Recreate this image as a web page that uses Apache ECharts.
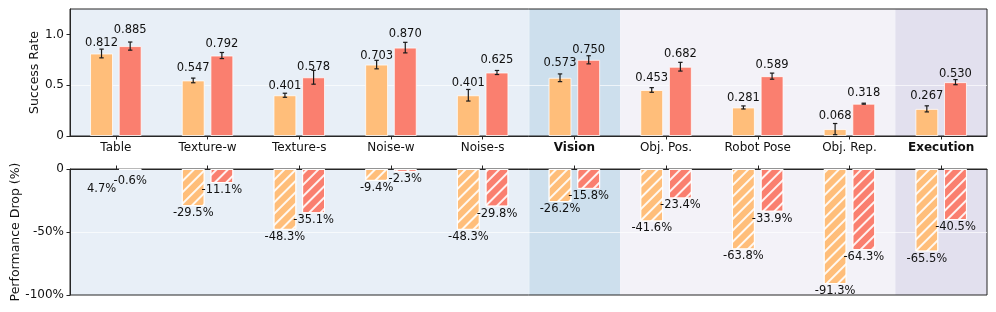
<!DOCTYPE html>
<html>
<head>
<meta charset="utf-8">
<script src="https://cdn.jsdelivr.net/npm/echarts@6/dist/echarts.min.js"></script>
<style>
html,body{margin:0;padding:0;background:#fff;}
#chart{width:996px;height:312px;}
</style>
</head>
<body>
<div id="chart"></div>
<script>
// ---- data ----
const categories = ['Table', 'Texture-w', 'Texture-s', 'Noise-w', 'Noise-s', 'Vision', 'Obj. Pos.', 'Robot Pose', 'Obj. Rep.', 'Execution'];
const boldCategories = ['Vision', 'Execution'];
const categoryGroups = ['basic', 'basic', 'basic', 'basic', 'basic', 'visionSum', 'exec', 'exec', 'exec', 'execSum'];
const baselineSuccess = [0.812, 0.547, 0.401, 0.703, 0.401, 0.573, 0.453, 0.281, 0.068, 0.267];
const baselineErr = [0.043, 0.023, 0.020, 0.042, 0.057, 0.038, 0.023, 0.015, 0.055, 0.030];
const oursSuccess = [0.885, 0.792, 0.578, 0.870, 0.625, 0.750, 0.682, 0.589, 0.318, 0.530];
const oursErr = [0.040, 0.030, 0.068, 0.052, 0.020, 0.040, 0.043, 0.030, 0.005, 0.025];
const baselineDrop = [4.7, -29.5, -48.3, -9.4, -48.3, -26.2, -41.6, -63.8, -91.3, -65.5];
const oursDrop = [-0.6, -11.1, -35.1, -2.3, -29.8, -15.8, -23.4, -33.9, -64.3, -40.5];
const successTicks = [0, 0.5, 1.0];
const successTickLabels = ['0', '0.5', '1.0'];
const dropTicks = [-100, -50, 0];
const dropTickLabels = ['-100%', '-50%', '0'];

// ---- style ----
const FONT = 'DejaVu Sans';
const ORANGE = '#FFBE7A';
const RED = '#FA7F6F';
const groupColors = { basic: '#e8eff7', visionSum: '#cddfed', exec: '#f3f2f8', execSum: '#e2e0ee' };
const FRAME = '#262626';
// vertical label nudges (px) mimicking the de-overlapped labels of the original
const liftOrange = [4, 6, 3.3, 2.5, 6.5, 9, 5.5, 3, 7.5, 7];
const liftRed = [10, 5.4, 3.8, 8, 6.5, 3.7, 6.2, 5, 4.4, 2];
const dropLabelGap = { 0: [14, 5] };

const TOP = { left: 70, top: 9, width: 917, height: 127 };
const BOT = { left: 70, top: 169, width: 917, height: 126 };
const SUCC_MAX = 1.25;
const BAR_FRAC = 0.25, GAP_FRAC = 0.25;
const OFFSET_FRAC = BAR_FRAC * (1 + GAP_FRAC) / 2;

const chart = echarts.init(document.getElementById('chart'), null, { renderer: 'canvas' });

function catLabel(v) {
  return boldCategories.indexOf(v) >= 0 ? '{b|' + v + '}' : v;
}

// contiguous spans of background groups
const spans = [];
categoryGroups.forEach((g, i) => {
  const last = spans[spans.length - 1];
  if (last && last[2] === g) last[1] = i; else spans.push([i, i, g]);
});

function bgSeries(xIdx, yIdx, yLo, yHi) {
  return {
    type: 'custom', xAxisIndex: xIdx, yAxisIndex: yIdx, z: -1, silent: true,
    data: spans.map(s => [s[0], s[1], s[2]]),
    encode: { x: [0, 1] },
    renderItem: function (params, api) {
      const s = spans[params.dataIndex];
      const bw = api.size([1, 0])[0];
      const a = api.coord([s[0], yHi]);
      const b = api.coord([s[1], yLo]);
      const x0 = a[0] - bw / 2, x1 = b[0] + bw / 2;
      const children = [{
        type: 'rect',
        shape: { x: x0, y: a[1], width: x1 - x0, height: b[1] - a[1] },
        style: { fill: groupColors[s[2]] }
      }];
      if (s[2] === 'visionSum') {
        children.push({ type: 'line', shape: { x1: x0 + 0.5, y1: a[1], x2: x0 + 0.5, y2: b[1] }, style: { stroke: 'rgba(255,255,255,0.6)', lineWidth: 1 } });
      }
      return { type: 'group', children: children };
    }
  };
}

function errSeries(vals, errs, sign) {
  return {
    type: 'custom', xAxisIndex: 0, yAxisIndex: 0, z: 4, silent: true,
    data: vals.map((v, i) => [i, v, errs[i]]),
    renderItem: function (params, api) {
      const i = api.value(0), v = api.value(1), e = api.value(2);
      const bw = api.size([1, 0])[0];
      const dx = sign * bw * OFFSET_FRAC;
      const p1 = api.coord([i, v + e]);
      const p2 = api.coord([i, v - e]);
      const x = p1[0] + dx;
      const cap = 2.2;
      const st = { stroke: '#1a1a1a', lineWidth: 1.2 };
      return {
        type: 'group',
        children: [
          { type: 'line', shape: { x1: x, y1: p1[1], x2: x, y2: p2[1] }, style: st },
          { type: 'line', shape: { x1: x - cap, y1: p1[1], x2: x + cap, y2: p1[1] }, style: st },
          { type: 'line', shape: { x1: x - cap, y1: p2[1], x2: x + cap, y2: p2[1] }, style: st }
        ]
      };
    }
  };
}

function successBars(vals, color, lifts) {
  return {
    type: 'bar', xAxisIndex: 0, yAxisIndex: 0, z: 2,
    barWidth: (BAR_FRAC * 100) + '%', barGap: (GAP_FRAC * 100) + '%',
    itemStyle: { color: color, borderColor: 'rgba(255,255,255,0.75)', borderWidth: 1 },
    data: vals.map((v, i) => ({
      value: v,
      label: { distance: lifts[i] }
    })),
    label: {
      show: true, position: 'top', fontFamily: FONT, fontSize: 11.5, color: '#111',
      formatter: p => p.value.toFixed(3)
    }
  };
}

const hatch = {
  symbol: 'rect', symbolSize: 1,
  dashArrayX: [1, 0], dashArrayY: [1.2, 5.8],
  rotation: -Math.PI / 4, color: 'rgba(255,255,255,0.9)'
};

function dropBars(vals, color, which) {
  return {
    type: 'bar', xAxisIndex: 1, yAxisIndex: 1, z: 2,
    barWidth: (BAR_FRAC * 100) + '%', barGap: (GAP_FRAC * 100) + '%',
    itemStyle: { color: color, borderColor: 'rgba(255,255,255,0.85)', borderWidth: 1, decal: hatch },
    data: vals.map((v, i) => {
      const d = { value: Math.min(v, 0), raw: v };
      if (v >= 0) d.itemStyle = { borderWidth: 0 };
      if (dropLabelGap[i]) d.label = { distance: dropLabelGap[i][which] };
      return d;
    }),
    label: {
      show: true, position: 'bottom', distance: 1, fontFamily: FONT, fontSize: 11.5, color: '#111',
      formatter: p => p.data.raw.toFixed(1) + '%'
    }
  };
}

const option = {
  animation: false,
  backgroundColor: '#fff',
  textStyle: { fontFamily: FONT },
  grid: [
    Object.assign({ show: true, borderColor: FRAME, borderWidth: 1, backgroundColor: 'transparent', containLabel: false }, TOP),
    Object.assign({ show: true, borderColor: FRAME, borderWidth: 1, backgroundColor: 'transparent', containLabel: false }, BOT)
  ],
  xAxis: [
    {
      type: 'category', gridIndex: 0, data: categories, position: 'bottom',
      axisLine: { show: true, lineStyle: { color: FRAME } },
      axisTick: { show: true, alignWithLabel: true, interval: 0, length: 3.5, lineStyle: { color: FRAME } },
      axisLabel: {
        show: true, interval: 0, margin: 6, fontFamily: FONT, fontSize: 12, color: '#111',
        formatter: catLabel, rich: { b: { fontWeight: 'bold', fontFamily: FONT, fontSize: 12, color: '#111' } }
      },
      splitLine: { show: false }
    },
    {
      type: 'category', gridIndex: 1, data: categories, position: 'top',
      axisLine: { show: true, lineStyle: { color: FRAME } },
      axisTick: { show: true, alignWithLabel: true, interval: 0, length: 3.5, lineStyle: { color: FRAME } },
      axisLabel: { show: false },
      splitLine: { show: false }
    }
  ],
  yAxis: [
    {
      type: 'value', gridIndex: 0, min: 0, max: SUCC_MAX, interval: 0.5,
      name: 'Success Rate', nameLocation: 'middle', nameGap: 29, nameMoveOverlap: false,
      nameTextStyle: { fontFamily: FONT, fontSize: 12.5, color: '#111' },
      axisLine: { show: true, lineStyle: { color: FRAME } },
      axisTick: { show: true, length: 3.5, customValues: successTicks, lineStyle: { color: FRAME } },
      axisLabel: {
        show: true, margin: 6, fontFamily: FONT, fontSize: 12, color: '#111', customValues: successTicks,
        formatter: v => successTickLabels[successTicks.indexOf(v)]
      },
      splitLine: { show: true, showMinLine: false, showMaxLine: false, lineStyle: { color: 'rgba(255,255,255,0.65)', width: 1.2 } }
    },
    {
      type: 'value', gridIndex: 1, min: -100, max: 0, interval: 50,
      name: 'Performance Drop (%)', nameLocation: 'middle', nameGap: 48, nameMoveOverlap: false,
      nameTextStyle: { fontFamily: FONT, fontSize: 12.5, color: '#111' },
      axisLine: { show: true, lineStyle: { color: FRAME } },
      axisTick: { show: true, length: 3.5, customValues: dropTicks, lineStyle: { color: FRAME } },
      axisLabel: {
        show: true, margin: 6, fontFamily: FONT, fontSize: 12, color: '#111', customValues: dropTicks,
        formatter: v => dropTickLabels[dropTicks.indexOf(v)]
      },
      splitLine: { show: true, showMinLine: false, showMaxLine: false, lineStyle: { color: 'rgba(255,255,255,0.65)', width: 1.2 } }
    }
  ],
  series: [
    bgSeries(0, 0, 0, SUCC_MAX),
    bgSeries(1, 1, -100, 0),
    successBars(baselineSuccess, ORANGE, liftOrange),
    successBars(oursSuccess, RED, liftRed),
    errSeries(baselineSuccess, baselineErr, -1),
    errSeries(oursSuccess, oursErr, 1),
    dropBars(baselineDrop, ORANGE, 0),
    dropBars(oursDrop, RED, 1)
  ]
};
chart.setOption(option);
</script>
</body>
</html>
